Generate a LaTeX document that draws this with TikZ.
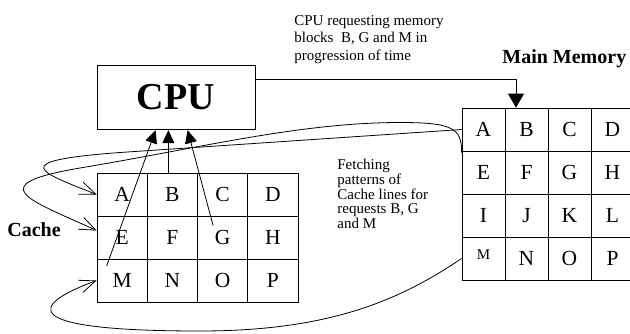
\documentclass[tikz,border=0pt]{standalone}
\usepackage{fontspec}
\setmainfont{Liberation Serif}
\usetikzlibrary{arrows.meta,calc}
\begin{document}
\begin{tikzpicture}[x=1pt,y=-1pt,line width=0.8pt,
  box/.style={draw,inner sep=0pt,anchor=center},
  ccell/.style={box,minimum width=50.25pt,minimum height=43pt,font=\fontsize{21.5}{21.5}\selectfont},
  mcell/.style={box,minimum width=43pt,minimum height=43pt,font=\fontsize{21.5}{21.5}\selectfont},
  note/.style={align=left,inner sep=0pt,anchor=north west},
  title/.style={inner sep=0pt,anchor=base west,font=\fontsize{20}{20}\selectfont\bfseries},
  req/.style={-{Triangle[length=13pt,width=12pt]}},
  fetch/.style={-{Straight Barb[length=16pt,width=13pt]}},
]
\useasboundingbox (0,0) rectangle (630,333);
\clip (0,0) rectangle (630,333);

% CPU
\node[box,minimum width=158pt,minimum height=64.5pt,font=\fontsize{38}{38}\selectfont\bfseries] (cpu) at (176,97.5) {CPU};

% cache grid
\foreach \l [count=\i from 0] in {A,B,C,D,E,F,G,H,M,N,O,P} {
  \pgfmathsetmacro\cx{97+50.25*(mod(\i,4)+0.5)}
  \pgfmathsetmacro\cy{173+43*(floor(\i/4)+0.5)}
  \node[ccell] (c\l) at (\cx,\cy) {\l};
}

% main memory grid
\foreach \n/\t [count=\i from 0] in {A/A,B/B,C/C,D/D,E/E,F/F,G/G,H/H,I/I,J/J,K/K,L/L,M/{},N/N,O/O,P/P} {
  \pgfmathsetmacro\mx{462+43*(mod(\i,4)+0.5)}
  \pgfmathsetmacro\my{108+43*(floor(\i/4)+0.5)}
  \node[mcell] (m\n) at (\mx,\my) {\t};
}
\node[inner sep=0pt,font=\fontsize{15}{15}\selectfont] (mMlab) at ($(mM.center)+(0,-3.5)$) {M};

% titles and notes
\node[title] (mmtitle) at (502,63) {Main Memory};
\node[title] (ctitle) at (7,236) {Cache};
\node[note,font=\fontsize{15}{17.5}\selectfont] (reqnote) at (294,15) {CPU requesting memory\\blocks\ \ B, G and M in\\progression of time};
\node[note,font=\fontsize{15}{14.7}\selectfont] (fetchnote) at (337,159) {Fetching\\patterns of\\Cache lines for\\requests B, G\\and M};

% request from CPU to main memory
\coordinate (reqbend) at (516,79);
\draw[-{Triangle[length=14pt,width=16pt]}] (cpu.east |- reqbend) -- (reqbend) -- (reqbend |- mB.north);

% arrows from cache lines to CPU
\coordinate (mstart) at ($(cM.north west)+(10,7.5)$);
\coordinate (gstart) at ($(cG.north west)+(16,10)$);
\coordinate (bstart) at ($(cB.north)+(-4,0)$);
\draw[req] (mstart) -- ($(cpu.south west)+(59,0)$);
\draw[req] (bstart) -- (bstart |- cpu.south);
\draw[req] (gstart) -- ($(cpu.south west)+(91,0)$);

% fetching patterns
\coordinate (etip) at ($(cE.west)+(0,-7)$);
\coordinate (estart) at ($(mE.north west)+(0,2)$);
\draw[fetch] (mA.west) -- (120,152.5) .. controls (5,161) and (40,172) .. (cA.west);
\draw[fetch] (estart) .. controls (462,128) and (452,122.5) .. (400,122.5)
  .. controls (300,122.5) and (200,148) .. (80,168)
  .. controls (-20,185) and (30,200) .. (etip);
\draw[fetch] (mM.west) .. controls (400,300) and (330,331) .. (200,331)
  .. controls (15,331) and (30,305) .. (cM.west);
\end{tikzpicture}
\end{document}
